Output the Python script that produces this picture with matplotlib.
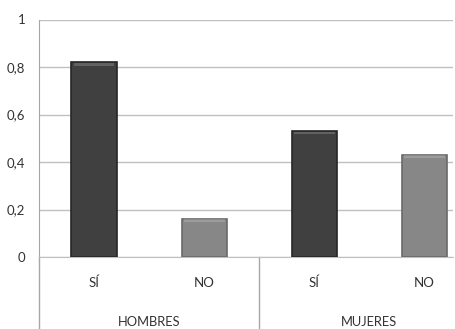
import matplotlib
matplotlib.use("Agg")

import matplotlib.pyplot as plt
import matplotlib.transforms as mtransforms

plt.rcParams["font.family"] = ["Lato", "DejaVu Sans"]

# answers per group
groups = ["HOMBRES", "MUJERES"]
answers = ["SÍ", "NO"]
values = [0.82, 0.16, 0.53, 0.43]
bar_colors = ["#404040", "#878787", "#404040", "#878787"]
edge_colors = ["#262626", "#6a6a6a", "#262626", "#6a6a6a"]
yticks = [0, 0.2, 0.4, 0.6, 0.8, 1]
ytick_labels = ["0", "0,2", "0,4", "0,6", "0,8", "1"]

W, H = 455, 329
fig = plt.figure(figsize=(W / 100, H / 100), dpi=100)
ax = fig.add_axes([39 / W, 72 / H, (453 - 39) / W, (257 - 19.5) / H])

x = list(range(len(values)))
ax.bar(x, values, width=0.41, color=bar_colors, edgecolor=edge_colors,
       linewidth=1.2, zorder=3)
# light bevel along the top of each bar
for xi, v in zip(x, values):
    ax.bar(xi, 0.012, bottom=v - 0.014, width=0.37, color="white",
           alpha=0.18, linewidth=0, zorder=4)

ax.set_xlim(-0.5, 3.26)
ax.set_ylim(0, 1)
ax.set_yticks(yticks)
ax.set_yticklabels(ytick_labels, fontsize=9.5, color="#333333")
ax.tick_params(axis="y", length=0, pad=10)
ax.set_xticks([])
ax.yaxis.grid(True, color="#c0c0c0", linewidth=1.0, zorder=0)
ax.set_axisbelow(True)

for side in ["top", "right"]:
    ax.spines[side].set_visible(False)
ax.spines["bottom"].set_color("#c0c0c0")
ax.spines["left"].set_color("#a6a6a6")

trans = mtransforms.blended_transform_factory(ax.transData, fig.transFigure)

# answer labels
for i, xi in enumerate(x):
    ax.text(xi, 1 - 283 / H, answers[i % 2], transform=trans,
            ha="center", va="center", fontsize=9.5, color="#333333")

# group labels
for g, name in enumerate(groups):
    ax.text(2 * g + 0.5, 1 - 322 / H, name, transform=trans,
            ha="center", va="center", fontsize=9.3, color="#333333")

# group dividers below the axis
for xd in [-0.5, 1.5]:
    ax.plot([xd, xd], [72 / H, 0], transform=trans, color="#a6a6a6",
            linewidth=1.0, clip_on=False)

fig.savefig("out.png", dpi=100)
plt.close(fig)
